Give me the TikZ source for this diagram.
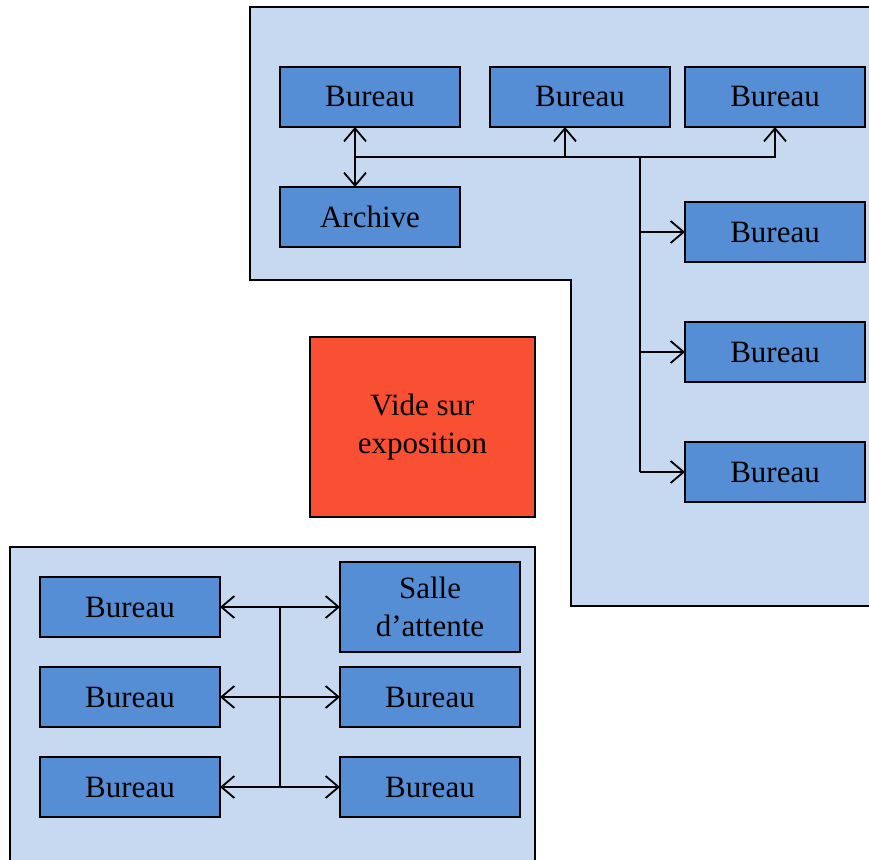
\documentclass[tikz,border=0pt]{standalone}
\usepackage{fontspec}
\setmainfont{Liberation Serif}
\usetikzlibrary{arrows.meta}
\definecolor{zonefill}{HTML}{C6D9F0}
\definecolor{boxfill}{HTML}{558ED5}
\definecolor{voidfill}{HTML}{F94F32}
\tikzset{
  room/.style={draw=black, fill=boxfill, line width=1.8pt, minimum width=180pt, minimum height=60pt, inner sep=0pt, outer sep=0pt, font=\fontsize{31}{38}\selectfont, align=center},
  zone/.style={draw=black, fill=zonefill, line width=1.8pt},
  tip/.tip={Straight Barb[length=13pt,width=22pt,line width=1.8pt]},
  link/.style={draw=black, line width=1.8pt, -tip},
  blink/.style={draw=black, line width=1.8pt, tip-tip},
  plain/.style={draw=black, line width=1.8pt}
}
\begin{document}
\begin{tikzpicture}[x=1pt,y=-1pt]
\clip (0,0) rectangle (869,859);
% zones
\path[zone] (250,7) -- (875,7) -- (875,606) -- (571,606) -- (571,280) -- (250,280) -- cycle;
\path[zone] (10,875) -- (10,547) -- (535,547) -- (535,875);
% top rooms
\node[room] (b1) at (370,97) {Bureau};
\node[room] (b2) at (580,97) {Bureau};
\node[room] (b3) at (775,97) {Bureau};
\node[room] (arch) at (370,217) {Archive};
\node[room] (r1) at (775,232) {Bureau};
\node[room] (r2) at (775,352) {Bureau};
\node[room] (r3) at (775,472) {Bureau};
% void
\node[draw=black, fill=voidfill, line width=1.8pt, minimum width=225pt, minimum height=180pt, inner sep=0pt, align=center, font=\fontsize{31}{38}\selectfont] (void) at (422.5,427) {Vide sur\\exposition};
% bottom rooms
\node[room] (l1) at (130,607) {Bureau};
\node[room] (l2) at (130,697) {Bureau};
\node[room] (l3) at (130,787) {Bureau};
\node[room, minimum height=90pt] (s) at (430,607) {Salle\\d’attente};
\node[room] (m2) at (430,697) {Bureau};
\node[room] (m3) at (430,787) {Bureau};
% top connectors
\coordinate (hl) at (355,157);
\coordinate (hr) at (640,157);
\coordinate (hm) at (565,157);
\draw[blink] (b1.south -| hl) -- (arch.north -| hl);
\draw[link] (hl) -- (hl -| b3.south) -- (b3.south);
\draw[link] (hm) -- (hm |- b2.south);
\draw[plain] (hr) -- (hr |- r3.west);
\draw[link] (hr |- r1.west) -- (r1.west);
\draw[link] (hr |- r2.west) -- (r2.west);
\draw[link] (hr |- r3.west) -- (r3.west);
% bottom connectors
\coordinate (vt) at (280,607);
\draw[plain] (vt) -- (vt |- l3.east);
\draw[blink] (l1.east) -- (s.west);
\draw[blink] (l2.east) -- (m2.west);
\draw[blink] (l3.east) -- (m3.west);
\end{tikzpicture}
\end{document}
